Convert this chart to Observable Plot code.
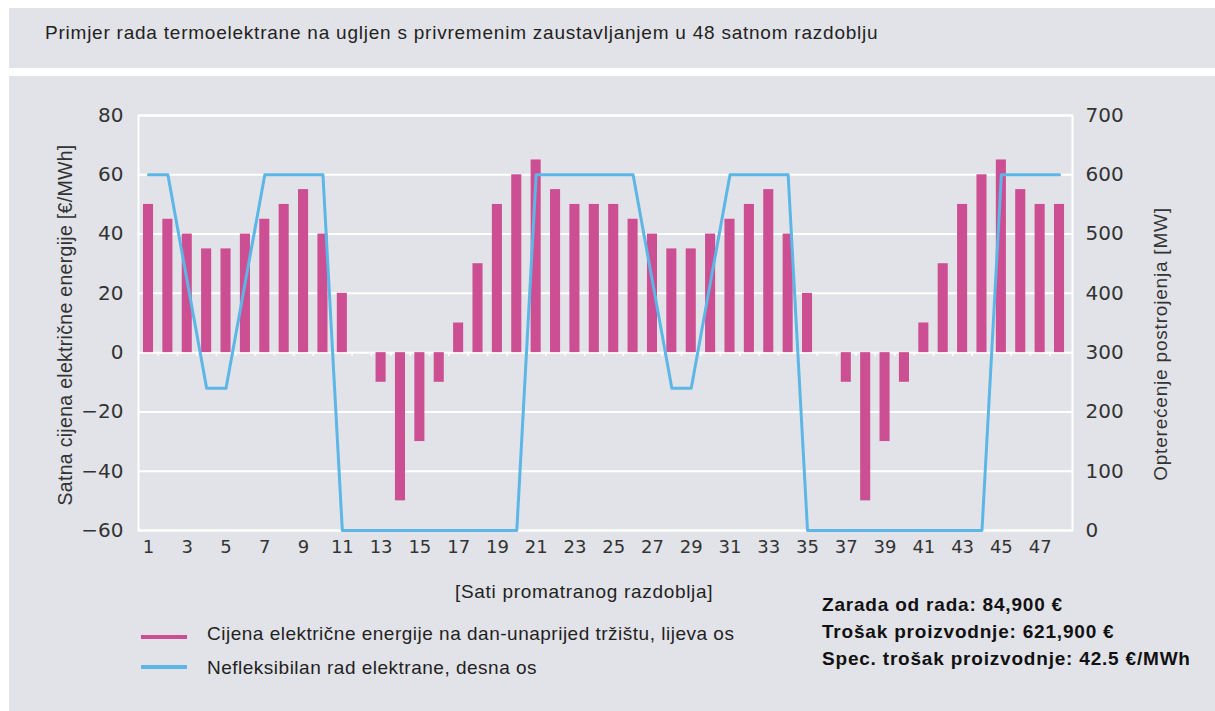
<!DOCTYPE html>
<html>
<head>
<meta charset="utf-8">
<script src="https://cdn.jsdelivr.net/npm/d3@7"></script>
<script src="https://cdn.jsdelivr.net/npm/@observablehq/plot@0.6"></script>
<style>
  body { margin:0; background:#ffffff; width:1215px; height:711px; position:relative; overflow:hidden; font-family:"Liberation Sans", Arial, sans-serif; color:#222; }
  .abs { position:absolute; white-space:nowrap; }
  .panel { position:absolute; background:#e2e3e8; }
  .rot { transform: translate(-50%, -50%) rotate(-90deg); font-size:19px; color:#333; line-height:22px; }
  .leg { font-size:19px; letter-spacing:0.5px; line-height:22px; color:#222; }
  .stat { font-size:19px; letter-spacing:0.8px; font-weight:bold; line-height:22px; color:#111; }
  .sw { position:absolute; height:4px; width:46px; }
</style>
</head>
<body>
<div class="panel" style="left:9px;top:8px;width:1206px;height:60px;"></div>
<div class="panel" style="left:9px;top:76px;width:1206px;height:635px;"></div>
<div class="abs" style="left:45px;top:22px;font-size:19px;letter-spacing:0.77px;line-height:22px;color:#222;">Primjer rada termoelektrane na ugljen s privremenim zaustavljanjem u 48 satnom razdoblju</div>
<div id="chart" class="abs" style="left:0;top:75px;"></div>
<div class="abs rot" style="left:65px;top:325px;font-size:19.5px;letter-spacing:0.3px;">Satna cijena električne energije [€/MWh]</div>
<div class="abs rot" style="left:1161px;top:344px;letter-spacing:0.8px;">Opterećenje postrojenja [MW]</div>
<div class="abs leg" style="left:455px;top:581px;letter-spacing:0.7px;">[Sati promatranog razdoblja]</div>
<div class="sw" style="left:141px;top:635px;background:#cd4f93;"></div>
<div class="abs leg" style="left:207px;top:623px;">Cijena električne energije na dan-unaprijed tržištu, lijeva os</div>
<div class="sw" style="left:141px;top:665px;background:#5cb6e6;"></div>
<div class="abs leg" style="left:207px;top:657px;">Nefleksibilan rad elektrane, desna os</div>
<div class="abs stat" style="left:822px;top:594px;">Zarada od rada: 84,900 €</div>
<div class="abs stat" style="left:822px;top:621px;">Trošak proizvodnje: 621,900 €</div>
<div class="abs stat" style="left:822px;top:648px;">Spec. trošak proizvodnje: 42.5 €/MWh</div>
<script>
const hours = [1,2,3,4,5,6,7,8,9,10,11,12,13,14,15,16,17,18,19,20,21,22,23,24,
               25,26,27,28,29,30,31,32,33,34,35,36,37,38,39,40,41,42,43,44,45,46,47,48];
const price = [50,45,40,35,35,40,45,50,55,40,20,0,-10,-50,-30,-10,10,30,50,60,65,55,50,50,
               50,45,40,35,35,40,45,50,55,40,20,0,-10,-50,-30,-10,10,30,50,60,65,55,50,50];
const load = [600,600,420,240,240,420,600,600,600,600,0,0,0,0,0,0,0,0,0,0,600,600,600,600,
              600,600,420,240,240,420,600,600,600,600,0,0,0,0,0,0,0,0,0,0,600,600,600,600];
const leftTicks = [-60,-40,-20,0,20,40,60,80];
const rightTicks = [0,100,200,300,400,500,600,700];
const xTicks = [1,3,5,7,9,11,13,15,17,19,21,23,25,27,29,31,33,35,37,39,41,43,45,47];

const rows = hours.map((h, i) => ({hour: h, price: price[i], load: load[i]}));
// right axis (0..700 MW) mapped onto the left scale (-60..80 €/MWh)
const toLeft = v => v / 5 - 60;
const toRight = v => (v + 60) * 5;

const chart = Plot.plot({
  width: 1215,
  height: 500,
  marginTop: 40,
  marginBottom: 45,
  marginLeft: 138,
  marginRight: 143,
  style: {background: "transparent", fontFamily: "'DejaVu Sans', sans-serif", color: "#333"},
  x: {domain: [0.484, 48.67]},
  y: {domain: [-60, 80]},
  marks: [
    Plot.gridY(leftTicks, {stroke: "white", strokeOpacity: 1, strokeWidth: 2}),
    Plot.frame({stroke: "white", strokeWidth: 2}),
    Plot.rectY(rows, {x1: d => d.hour - 0.26, x2: d => d.hour + 0.26, y1: 0, y2: "price", fill: "#cd4f93"}),
    Plot.ruleX(hours.slice(0, 47), {x: d => d + 0.5, y1: 0, y2: -1.3, stroke: "white", strokeWidth: 1.5}),
    Plot.lineY(rows, {x: "hour", y: d => toLeft(d.load), stroke: "#5cb6e6", strokeWidth: 3}),
    Plot.axisY(leftTicks, {anchor: "left", tickSize: 0, tickPadding: 15, fontSize: 20, label: null}),
    Plot.axisY(rightTicks.map(toLeft), {anchor: "right", tickSize: 0, tickPadding: 13, fontSize: 20, label: null, tickFormat: d => String(toRight(d))}),
    Plot.axisX(xTicks, {anchor: "bottom", tickSize: 0, tickPadding: 10, fontSize: 18, label: null})
  ]
});
document.getElementById("chart").appendChild(chart);
</script>
</body>
</html>
